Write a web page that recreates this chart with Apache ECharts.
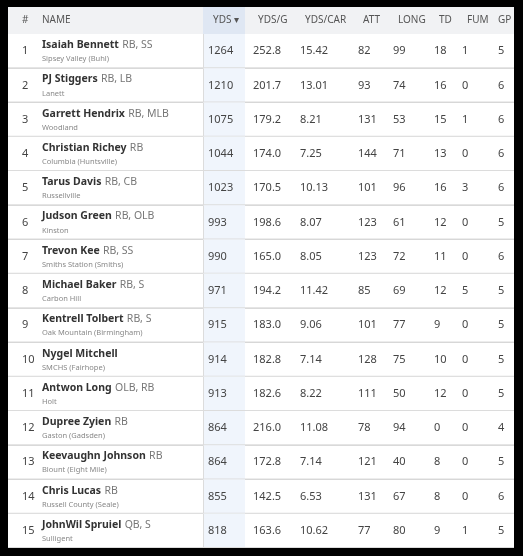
<!DOCTYPE html><html><head><meta charset="utf-8"><script src="https://cdn.jsdelivr.net/npm/echarts@6/dist/echarts.min.js"></script>
<style>html,body{margin:0;background:#000}#c{width:523px;height:556px}</style></head><body><div id="c"></div><script>
const headers=['#','NAME','YDS ▾','YDS/G','YDS/CAR','ATT','LONG','TD','FUM','GP'];
const names=['Isaiah Bennett','PJ Stiggers','Garrett Hendrix','Christian Richey','Tarus Davis','Judson Green','Trevon Kee','Michael Baker','Kentrell Tolbert','Nygel Mitchell','Antwon Long','Dupree Zyien','Keevaughn Johnson','Chris Lucas','JohnWil Spruiel'];
const positions=['RB, SS','RB, LB','RB, MLB','RB','RB, CB','RB, OLB','RB, SS','RB, S','RB, S','','OLB, RB','RB','RB','RB','QB, S'];
const schools=['Sipsey Valley (Buhl)','Lanett','Woodland','Columbia (Huntsville)','Russellville','Kinston','Smiths Station (Smiths)','Carbon Hill','Oak Mountain (Birmingham)','SMCHS (Fairhope)','Holt','Gaston (Gadsden)','Blount (Eight Mile)','Russell County (Seale)','Sulligent'];
const yds=[1264,1210,1075,1044,1023,993,990,971,915,914,913,864,864,855,818];
const ydsG=['252.8','201.7','179.2','174.0','170.5','198.6','165.0','194.2','183.0','182.8','182.6','216.0','172.8','142.5','163.6'];
const ydsCar=['15.42','13.01','8.21','7.25','10.13','8.07','8.05','11.42','9.06','7.14','8.22','11.08','7.14','6.53','10.62'];
const att=[82,93,131,144,101,123,123,85,101,128,111,78,121,131,77];
const long=[99,74,53,71,96,61,72,69,77,75,50,94,40,67,80];
const td=[18,16,15,13,16,12,11,12,9,10,12,0,8,8,9];
const fum=[1,0,1,0,3,0,0,5,0,0,0,0,0,0,1];
const gp=[5,6,6,6,6,5,6,5,5,5,5,4,5,6,5];
const rowLabels=names.map((n,i)=>String(i+1));
const colX=[14,34,200,245,292,350,385,426,454,490];
const hdrOff=[0,0,5,5,5,5,5,5,5,0];
const hiL=195,hiR=237;
const F='"Noto Sans","DejaVu Sans",sans-serif';
const chart=echarts.init(document.getElementById('c'));
chart.setOption({
 backgroundColor:'#000',animation:false,
 grid:{left:8,right:9,top:34,bottom:8},
 xAxis:{type:'value',min:0,max:506,show:false},
 yAxis:{type:'category',data:rowLabels,inverse:true,show:false},
 graphic:[{type:'rect',shape:{x:8,y:7,width:506,height:27},style:{fill:'#f1f2f4'}},
  {type:'rect',shape:{x:8+hiL,y:7,width:hiR-hiL,height:27},style:{fill:'#dfe7f3'}},
  ...headers.map((h,i)=>({type:'text',x:8+colX[i]+hdrOff[i],y:20,style:{text:h,fill:'#555',font:'10px '+F,verticalAlign:'middle'}}))],
 series:[{type:'custom',data:rowLabels.map((r,i)=>[0,i]),encode:{x:0,y:1},
  renderItem:(p,api)=>{
   const i=p.dataIndex;const c=api.coord([0,i]);const s=api.size([0,1]);const h=s[1];
   const top=c[1]-h/2;const x0=api.coord([0,0])[0];const W=api.coord([506,0])[0]-x0;
   const X=v=>api.coord([v,0])[0];
   const vals=[yds[i],ydsG[i],ydsCar[i],att[i],long[i],td[i],fum[i],gp[i]];
   const ch=[{type:'rect',shape:{x:x0,y:top,width:W,height:h},style:{fill:'#fff'}},
    {type:'rect',shape:{x:X(hiL),y:top,width:hiR-hiL,height:h},style:{fill:'#f0f5fc'}},
    {type:'rect',shape:{x:x0,y:top+h-1,width:W,height:1},style:{fill:'#dcdcdc'}},
    {type:'rect',shape:{x:X(hiL),y:top,width:1,height:h},style:{fill:'#dcdcdc'}},
    {type:'text',x:X(colX[0]),y:c[1],style:{text:String(i+1),fill:'#444',font:'11px '+F,verticalAlign:'middle'}},
    {type:'text',x:X(colX[1]),y:c[1]-6,style:{text:'{b|'+names[i]+'} {p|'+positions[i]+'}',verticalAlign:'middle',rich:{b:{font:'bold 10.5px '+F,fill:'#333'},p:{font:'10.5px '+F,fill:'#777'}}}},
    {type:'text',x:X(colX[1]),y:c[1]+8,style:{text:schools[i],fill:'#888',font:'7.5px '+F,verticalAlign:'middle'}}];
   vals.forEach((v,k)=>ch.push({type:'text',x:X(colX[k+2]),y:c[1],style:{text:String(v),fill:'#444',font:'11px '+F,verticalAlign:'middle'}}));
   return {type:'group',children:ch};
  }}]
});
</script></body></html>
